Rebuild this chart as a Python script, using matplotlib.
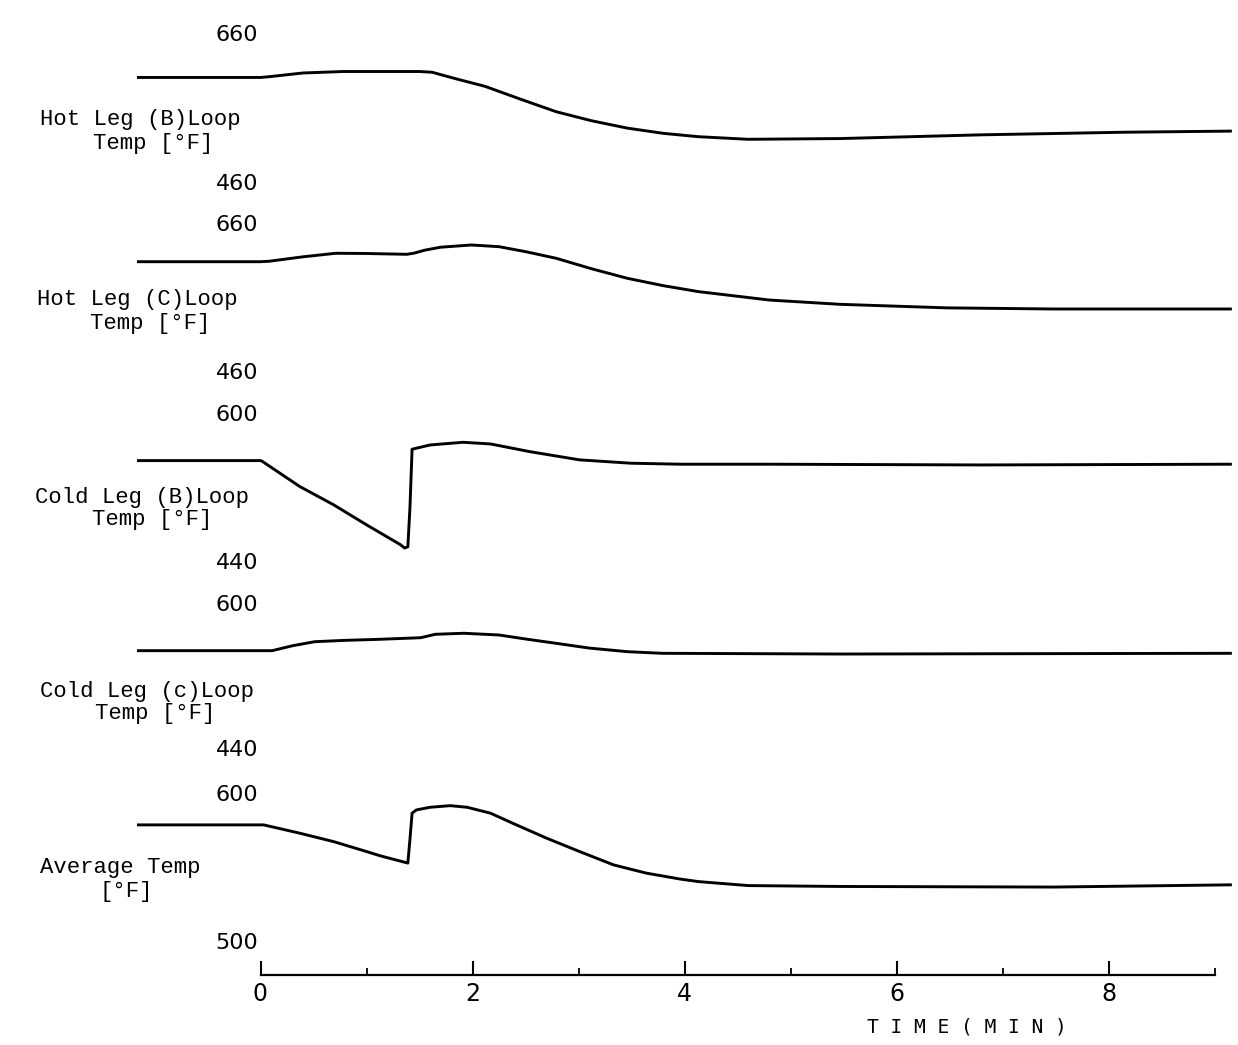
import numpy as np
import matplotlib
matplotlib.use("Agg")
import matplotlib.pyplot as plt
from matplotlib.ticker import MultipleLocator

# time in minutes, temperatures in deg F
hot_b_t = [-1.16, 0.0, 0.08, 0.4, 0.78, 1.2, 1.5, 1.62, 1.72, 1.85, 2.12, 2.45, 2.79, 3.12, 3.46, 3.8, 4.13, 4.6, 5.47, 6.8, 8.15, 9.15]
hot_b_v = [603, 603, 604, 609, 611, 611, 611, 610, 606, 601, 591, 574, 557, 545, 535, 528, 523.5, 520, 521, 526, 529.5, 531]

hot_c_t = [-1.16, 0.0, 0.08, 0.4, 0.71, 1.0, 1.38, 1.45, 1.55, 1.7, 1.99, 2.25, 2.5, 2.79, 3.12, 3.46, 3.8, 4.13, 4.8, 5.47, 6.48, 7.48, 9.15]
hot_c_v = [610.4, 610.4, 611, 617, 621.8, 621.5, 620.4, 622, 626, 630, 633, 630.7, 624, 615, 601, 588, 578, 570, 558.6, 552.8, 548, 546.5, 546.5]

cold_b_t = [-1.16, 0.0, 0.01, 0.37, 0.69, 1.0, 1.32, 1.36, 1.39, 1.41, 1.43, 1.6, 1.91, 2.17, 2.54, 3.01, 3.49, 3.96, 4.8, 6.8, 9.15]
cold_b_v = [550.7, 550.7, 550.4, 522.7, 502.9, 481.3, 459.8, 456.2, 457.5, 500, 563, 567.6, 570.5, 568.7, 560.4, 551.5, 547.9, 546.8, 546.8, 546, 546.8]

cold_c_t = [-1.16, 0.0, 0.11, 0.3, 0.51, 0.8, 1.11, 1.51, 1.65, 1.92, 2.25, 2.5, 2.79, 3.1, 3.46, 3.79, 5.47, 9.15]
cold_c_v = [549.6, 549.6, 549.6, 555, 559.5, 561, 562.1, 563.9, 567.7, 568.8, 566.9, 562.5, 557.7, 552.5, 548.5, 546.7, 545.9, 546.7]

avg_t = [-1.16, 0.0, 0.03, 0.37, 0.69, 1.0, 1.13, 1.39, 1.41, 1.43, 1.47, 1.6, 1.79, 1.95, 2.17, 2.38, 2.7, 3.01, 3.33, 3.64, 3.96, 4.13, 4.6, 5.47, 7.48, 9.15]
avg_v = [579.8, 579.8, 579.8, 574.2, 568.5, 561.8, 558.9, 554, 570, 587.7, 589.9, 591.7, 592.8, 591.7, 587.7, 580.9, 570.8, 561.8, 552.8, 547.2, 543.2, 541.5, 538.8, 538.2, 537.8, 539.3]

series = [
    (hot_b_t, hot_b_v, 460, 660, 35, 184),
    (hot_c_t, hot_c_v, 460, 660, 225, 373),
    (cold_b_t, cold_b_v, 440, 600, 415, 563),
    (cold_c_t, cold_c_v, 440, 600, 605, 750),
    (avg_t, avg_v, 500, 600, 795, 943),
]

# label lines: (text, x px, y px)
labels = [
    [("Hot Leg (B)Loop", 40, 120), ("Temp [°F]", 93, 143)],
    [("Hot Leg (C)Loop", 37, 300), ("Temp [°F]", 90, 323)],
    [("Cold Leg (B)Loop", 35, 497), ("Temp [°F]", 92, 520)],
    [("Cold Leg (c)Loop", 40, 692), ("Temp [°F]", 95, 713)],
    [("Average Temp", 40, 868), ("[°F]", 100, 892)],
]

W, H = 1238, 1045
fig = plt.figure(figsize=(W / 100, H / 100), dpi=100)

x_left, x_right = 137, 1232
x0_px, px_per_min = 260.5, 106.0
xlim = ((x_left - x0_px) / px_per_min, (x_right - x0_px) / px_per_min)

for (t, v, lo, hi, ytop, ybot), lab in zip(series, labels):
    ax = fig.add_axes([x_left / W, 1 - ybot / H, (x_right - x_left) / W, (ybot - ytop) / H])
    ax.plot(t, v, color="black", lw=2.1, solid_joinstyle="round")
    ax.set_xlim(xlim)
    ax.set_ylim(lo, hi)
    ax.axis("off")
    for val in (hi, lo):
        ax.text(-0.02, val, str(val), ha="right", va="center", fontsize=16,
                family=["Liberation Sans Narrow", "DejaVu Sans"], clip_on=False)
    for txt, px, py in lab:
        fig.text(px / W, 1 - py / H, txt, ha="left", va="center", fontsize=16,
                 family=["Liberation Mono", "DejaVu Sans Mono"])

# time axis at the bottom
ya = 975
axt = fig.add_axes([x_left / W, 1 - ya / H, (x_right - x_left) / W, 0.02])
axt.set_xlim(xlim)
axt.set_ylim(0, 1)
for s in ["top", "left", "right"]:
    axt.spines[s].set_visible(False)
axt.spines["bottom"].set_bounds(0, 9)
axt.spines["bottom"].set_linewidth(1.6)
axt.set_yticks([])
axt.set_xticks([0, 2, 4, 6, 8])
axt.set_xticks([1, 3, 5, 7, 9], minor=True)
axt.tick_params(axis="x", which="major", direction="in", length=10, width=1.5, pad=5, labelsize=17)
axt.tick_params(axis="x", which="minor", direction="in", length=5, width=1.3)
for lbl in axt.get_xticklabels():
    lbl.set_family(["Liberation Sans Narrow", "DejaVu Sans"])
axt.patch.set_visible(False)

fig.text(967 / W, 1 - 1027 / H, "T I M E ( M I N )", ha="center", va="center",
         fontsize=14, family=["DejaVu Sans Mono"])

fig.savefig("out.png", dpi=100)
